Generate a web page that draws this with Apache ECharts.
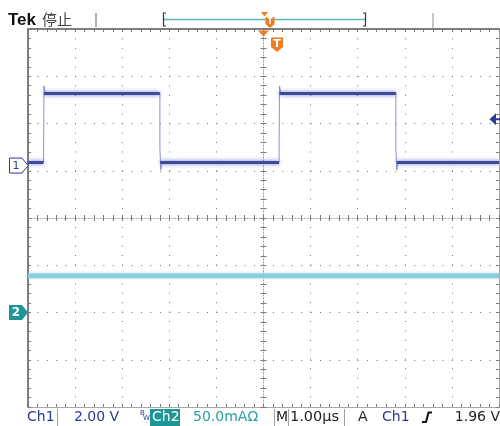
<!DOCTYPE html>
<html><head><meta charset="utf-8">
<script src="https://cdn.jsdelivr.net/npm/echarts@6/dist/echarts.min.js"></script>
<style>html,body{margin:0;padding:0;background:#fff}#c{width:500px;height:426px}</style>
</head><body><div id="c"></div>
<script>
// Time in µs (centre = 0), Ch1 in V, Ch2 in mA
const ch1SegStart  = [-5, -4.66, -2.19, 0.34, 2.83];
const ch1SegEnd    = [-4.67, -2.20, 0.33, 2.81, 5];
const ch1SegLevel  = [0.13, 3.05, 0.13, 3.05, 0.13];
const ch1RiseTime  = [-4.67, 0.33];
const ch1RisePeak  = [3.37, 3.37];
const ch1FallTime  = [-2.20, 2.81];
const ch1FallShelf = [0.74, 0.74];
const ch1FallDip   = [-0.19, -0.19];
const ch2Time      = [-5, 5];
const ch2Current   = [39, 39];
const ch1Offset = 1.11, ch1VoltsPerDiv = 2;   // divisions above centre
const ch2Offset = -2, ch2MaPerDiv = 50;
const triggerLevel = 1.96;
const xDivs = [-5, 5], yDivs = [-4, 4];
const topTexts = ['Tek', '停止'];
const bottomTexts = ['Ch1', '2.00 V', 'Ch2', '50.0mAΩ', 'M', '1.00µs', 'A', 'Ch1', '1.96 V'];

const GL = 28, GT = 29, GW = 471, GH = 378;
const BLUE = '#2c3a92', TEAL = '#1f9696', ORANGE = '#f07c22';

const chart = echarts.init(document.getElementById('c'));

function axisBase(extra) {
  return Object.assign({
    type: 'value', axisLabel: {show: false},
    axisTick: {show: true, inside: true, length: 3, lineStyle: {color: '#7a7a7a'}},
    minorTick: {show: true, splitNumber: 5, length: 3, lineStyle: {color: '#7a7a7a'}},
    splitLine: {show: false}, minorSplitLine: {show: false}
  }, extra);
}
const dotted = {show: true, lineStyle: {color: '#6e6e6e', width: 1, type: [1, 8.42]}};
const centreLine = {show: true, onZero: false, lineStyle: {color: '#9a9a9a', width: 1, type: [1, 2]}};

const xAxes = [
  axisBase({min: xDivs[0], max: xDivs[1], interval: 1, position: 'bottom', axisLine: {onZero: false, lineStyle: {color: '#a8a8a8', width: 1}}, splitLine: dotted}),
  axisBase({min: xDivs[0], max: xDivs[1], interval: 1, position: 'top', axisLine: {onZero: false, lineStyle: {color: '#7e7e7e', width: 2}}}),
  axisBase({min: xDivs[0], max: xDivs[1], interval: 1, position: 'bottom', offset: -GH / 2, axisLine: centreLine}),
  axisBase({min: xDivs[0], max: xDivs[1], interval: 1, position: 'top', offset: -GH / 2, axisLine: {show: false, onZero: false}})
];
const yAxes = [
  axisBase({min: yDivs[0], max: yDivs[1], interval: 1, position: 'left', axisLine: {onZero: false, lineStyle: {color: '#7e7e7e', width: 2}}, splitLine: dotted}),
  axisBase({min: yDivs[0], max: yDivs[1], interval: 1, position: 'right', axisLine: {onZero: false, lineStyle: {color: '#a8a8a8', width: 1}}}),
  axisBase({min: yDivs[0], max: yDivs[1], interval: 1, position: 'left', offset: -GW / 2, axisLine: centreLine}),
  axisBase({min: yDivs[0], max: yDivs[1], interval: 1, position: 'right', offset: -GW / 2, axisLine: {show: false, onZero: false}}),
  {type: 'value', show: false, min: (yDivs[0] - ch1Offset) * ch1VoltsPerDiv, max: (yDivs[1] - ch1Offset) * ch1VoltsPerDiv},
  {type: 'value', show: false, min: (yDivs[0] - ch2Offset) * ch2MaPerDiv, max: (yDivs[1] - ch2Offset) * ch2MaPerDiv}
];

const series = [];
const ch1Core = {width: 3, color: '#3d499f', shadowBlur: 4, shadowColor: 'rgba(70,80,170,0.8)'};
const ch1Edge = {width: 1, color: '#8b91d2'};
ch1RiseTime.forEach((t, i) => {
  series.push({type: 'line', xAxisIndex: 0, yAxisIndex: 4, symbol: 'none', z: 3, lineStyle: ch1Edge,
    data: [[t, ch1SegLevel[0]], [t + 0.01, ch1RisePeak[i]], [t + 0.04, ch1SegLevel[1]]]});
});
ch1FallTime.forEach((t, i) => {
  series.push({type: 'line', xAxisIndex: 0, yAxisIndex: 4, symbol: 'none', z: 3, lineStyle: ch1Edge,
    data: [[t, ch1SegLevel[1]], [t, ch1FallShelf[i]], [t + 0.02, ch1FallShelf[i]], [t + 0.02, ch1FallDip[i]], [t + 0.05, ch1SegLevel[0]]]});
});
ch1SegStart.forEach((s, i) => {
  series.push({type: 'line', xAxisIndex: 0, yAxisIndex: 4, symbol: 'none', z: 4, lineStyle: ch1Core,
    data: [[s, ch1SegLevel[i]], [ch1SegEnd[i], ch1SegLevel[i]]]});
});
series.push({type: 'line', xAxisIndex: 0, yAxisIndex: 5, symbol: 'none', z: 4,
  lineStyle: {width: 4.5, color: '#86cfdb', shadowBlur: 3, shadowColor: 'rgba(120,200,215,0.9)'},
  data: ch2Time.map((t, i) => [t, ch2Current[i]])});

chart.setOption({
  animation: false, backgroundColor: '#fff',
  grid: {left: GL, top: GT, width: GW, height: GH, containLabel: false},
  xAxis: xAxes, yAxis: yAxes, series: series
});

const gy1 = chart.convertToPixel({yAxisIndex: 4}, 0);
const gy2 = chart.convertToPixel({yAxisIndex: 5}, 0);
const ty = chart.convertToPixel({yAxisIndex: 4}, triggerLevel);
const tx = chart.convertToPixel({xAxisIndex: 0}, 0);

function txt(text, x, y, fill, font, align) {
  return {type: 'text', z: 100, style: {text: text, x: x, y: y, fill: fill, font: font,
    align: align || 'left', verticalAlign: 'middle', textAlign: align || 'left', textVerticalAlign: 'middle'}};
}
function ln(x1, y1, x2, y2, c, w) {
  return {type: 'line', z: 100, shape: {x1: x1, y1: y1, x2: x2, y2: y2}, style: {stroke: c, lineWidth: w || 1}};
}
function poly(pts, fill, stroke) {
  return {type: 'polygon', z: 100, shape: {points: pts}, style: {fill: fill, stroke: stroke || null, lineWidth: 1}};
}
const F = '14px "DejaVu Sans"';
const g = [
  // top status
  txt(topTexts[0], 8, 20, '#111', 'bold 17px "Liberation Sans"'),
  txt(topTexts[1], 42, 19, '#444', '15px "Noto Sans CJK SC"'),
  ln(96, 13, 96, 27, '#b0b0b0', 2),
  ln(433, 13, 433, 28, '#c8c8c8', 2),
  ln(164, 19.5, 365, 19.5, '#5ab8bc', 1.5),
  {type: 'polyline', z: 100, shape: {points: [[166, 13], [163.5, 13], [163.5, 26], [166, 26]]}, style: {stroke: '#333', lineWidth: 1.2, fill: null}},
  {type: 'polyline', z: 100, shape: {points: [[363, 13], [365.5, 13], [365.5, 26], [363, 26]]}, style: {stroke: '#333', lineWidth: 1.2, fill: null}},
  poly([[261, 12], [268, 12], [264.5, 16.5]], ORANGE),
  poly([[265.5, 17], [274.5, 17], [274.5, 24], [270, 28], [265.5, 24]], ORANGE),
  txt('T', 270, 22, '#fff', 'bold 8px "DejaVu Sans"', 'center'),
  // trigger position marker
  poly([[tx - 5.5, 30.5], [tx + 5.5, 30.5], [tx, 36.5]], ORANGE),
  poly([[tx + 7.5, 37.5], [tx + 19.5, 37.5], [tx + 19.5, 47], [tx + 13.5, 52], [tx + 7.5, 47]], ORANGE),
  txt('T', tx + 13.5, 44, '#fff', 'bold 11px "DejaVu Sans"', 'center'),
  // trigger level
  poly([[489.5, ty], [496, ty - 6], [496, ty + 6]], BLUE),
  ln(495, ty, 500, ty, BLUE, 2),
  // channel markers
  poly([[9.5, gy1 - 7.5], [22, gy1 - 7.5], [28, gy1], [22, gy1 + 7.5], [9.5, gy1 + 7.5]], '#fff', BLUE),
  txt('1', 16, gy1 + 0.5, BLUE, '11px "DejaVu Sans"', 'center'),
  poly([[9, gy2 - 7.5], [22, gy2 - 7.5], [28, gy2], [22, gy2 + 7.5], [9, gy2 + 7.5]], TEAL),
  txt('2', 16, gy2 + 0.5, '#fff', 'bold 12px "DejaVu Sans"', 'center'),
  // bottom status
  txt(bottomTexts[0], 27, 417, BLUE, F),
  ln(57.5, 409, 57.5, 426, '#a0a0a0', 1),
  txt(bottomTexts[1], 74, 417, BLUE, F),
  txt('B', 140, 413, BLUE, '7px "DejaVu Sans"'),
  txt('W', 143, 418, BLUE, '7px "DejaVu Sans"'),
  {type: 'rect', z: 99, shape: {x: 150, y: 409, width: 30, height: 17}, style: {fill: TEAL}},
  txt(bottomTexts[2], 152, 417, '#fff', F),
  txt(bottomTexts[3], 193, 417, '#2a9d9d', F),
  ln(274.5, 409, 274.5, 426, '#a0a0a0', 1),
  txt(bottomTexts[4], 276, 417, '#222', F),
  ln(288.5, 409, 288.5, 426, '#a0a0a0', 1),
  txt(bottomTexts[5], 290, 417, '#222', '14.5px "DejaVu Sans"'),
  ln(344.5, 409, 344.5, 426, '#a0a0a0', 1),
  txt(bottomTexts[6], 358, 417, '#222', F),
  txt(bottomTexts[7], 382, 417, BLUE, F),
  {type: 'polyline', z: 100, shape: {points: [[422, 422], [426, 422], [428.5, 412.5], [432, 412.5]]}, style: {stroke: '#111', lineWidth: 2, fill: null}},
  txt(bottomTexts[8], 500, 417, '#222', F, 'right')
];
chart.setOption({graphic: g});
</script></body></html>
